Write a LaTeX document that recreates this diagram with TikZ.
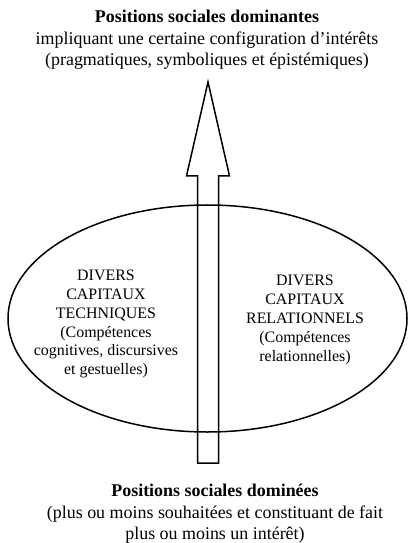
\documentclass[tikz,border=0pt]{standalone}
\usepackage{fontspec}
\setmainfont{Liberation Serif}
\usetikzlibrary{shapes.geometric,calc}
\begin{document}
\begin{tikzpicture}[x=1bp,y=-1bp,
  bigtext/.style={align=center, font=\fontsize{18}{21.5}\selectfont, inner sep=0pt},
  smalltext/.style={align=center, font=\fontsize{16}{19}\selectfont, inner sep=0pt},
  outline/.style={draw=black, line width=1.5bp}]
\useasboundingbox (0,0) rectangle (411,543);
\node[outline, ellipse, minimum width=399bp, minimum height=227bp, inner sep=0pt] (field) at (207.5,318.5) {};
\coordinate (tip) at (208,82);
\coordinate (tail) at (208,463);
\draw[outline, line join=miter] (tip) -- ($(tip)+(21.5,94)$) -- ($(tip)+(10.5,94)$) -- ($(tail)+(10.5,0)$) -- ($(tail)+(-10.5,0)$) -- ($(tip)+(-10.5,94)$) -- ($(tip)+(-21.5,94)$) -- cycle;
\node[bigtext] (top) at (207,40) {\textbf{Positions sociales dominantes}\\ impliquant une certaine configuration d’intérêts\\ (pragmatiques, symboliques et épistémiques)};
\node[bigtext] (bottom) at (215,514) {\textbf{Positions sociales dominées}\\ (plus ou moins souhaitées et constituant de fait\\ plus ou moins un intérêt)};
\node[smalltext] (tech) at (106,324) {DIVERS\\ CAPITAUX\\ TECHNIQUES\\ (Compétences\\ cognitives, discursives\\ et gestuelles)};
\node[smalltext] (rel) at (305,320) {DIVERS\\ CAPITAUX\\ RELATIONNELS\\ (Compétences\\ relationnelles)};
\end{tikzpicture}
\end{document}
